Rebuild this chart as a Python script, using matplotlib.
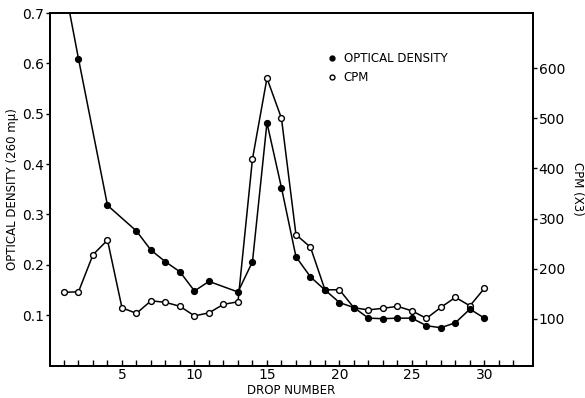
import matplotlib
matplotlib.use('Agg')
import matplotlib.pyplot as plt
from matplotlib.lines import Line2D

plt.rcParams['font.family'] = ['DejaVu Sans']

# optical density (260 mu), filled circles -- drops 3, 5, 12 have no reading
od_drops = [1, 2, 4, 6, 7, 8, 9, 10, 11, 13, 14, 15, 16, 17, 18, 19, 20,
            21, 22, 23, 24, 25, 26, 27, 28, 29, 30]
od_values = [0.76, 0.609, 0.318, 0.267, 0.229, 0.206, 0.186, 0.148, 0.167,
             0.146, 0.206, 0.482, 0.353, 0.216, 0.176, 0.150, 0.125, 0.115,
             0.094, 0.093, 0.094, 0.094, 0.079, 0.075, 0.085, 0.112, 0.094]

# CPM (x3), open circles
cpm_drops = list(range(1, 31))
cpm_values = [153, 154, 228, 257, 122, 111, 136, 133, 125, 106,
              112, 129, 134, 419, 580, 500, 268, 243, 158, 158,
              122, 118, 121, 125, 116, 101, 123, 143, 126, 161]

od_ticks = [0.1, 0.2, 0.3, 0.4, 0.5, 0.6, 0.7]
od_ticklabels = ['0.1', '0.2', '0.3', '0.4', '0.5', '0.6', '0.7']
cpm_ticks = [100, 200, 300, 400, 500, 600]
x_labeled = [5, 10, 15, 20, 25, 30]

fig = plt.figure(figsize=(5.85, 3.98), dpi=100, facecolor='white')
ax = fig.add_axes([49.5 / 585, 1 - 365.5 / 398, 483.5 / 585, 352.5 / 398])
ax2 = ax.twinx()
ax.set_zorder(ax2.get_zorder() + 1)
ax.patch.set_visible(False)

ax2.plot(cpm_drops, cpm_values, color='black', lw=1.1, marker='o', ms=4.2,
         mfc='white', mec='black', mew=1.0)
ax.plot(od_drops, od_values, color='black', lw=1.1, marker='o', ms=4.2,
        mfc='black', mec='black')

ax.set_xlim(0, 33.35)
ax.set_ylim(0, 0.7)
ax2.set_ylim(7, 710)

# x: small inward tick at every drop, labels every 5
ax.set_xticks(list(range(1, 33)))
ax.set_xticklabels([str(i) if i in x_labeled else '' for i in range(1, 33)],
                   fontsize=10)
ax.tick_params(axis='x', direction='in', length=4, width=1, pad=2)

ax.set_yticks(od_ticks)
ax.set_yticklabels(od_ticklabels, fontsize=10)
ax.tick_params(axis='y', direction='out', length=3, width=1, pad=1)

ax2.set_yticks(cpm_ticks)
ax2.set_yticklabels([str(v) for v in cpm_ticks], fontsize=10)
ax2.tick_params(axis='y', direction='out', length=3, width=1, pad=1)

for a in (ax, ax2):
    for s in a.spines.values():
        s.set_linewidth(1.4)

ax.set_xlabel('DROP NUMBER', fontsize=8.5, labelpad=1)
ax.set_ylabel('OPTICAL DENSITY (260 m\u03bc)', fontsize=8.5, labelpad=2)
ax2.set_ylabel('CPM (X3)', fontsize=8.5, rotation=270, labelpad=14)

handles = [
    Line2D([], [], ls='none', marker='o', ms=3.5, mfc='black', mec='black'),
    Line2D([], [], ls='none', marker='o', ms=3.5, mfc='white', mec='black'),
]
ax.legend(handles, ['OPTICAL DENSITY', 'CPM'], loc='upper left',
          bbox_to_anchor=(0.562, 0.905), frameon=False, fontsize=8.5,
          handlelength=0.8, handletextpad=0.6, borderpad=0, labelspacing=0.45)

fig.savefig('out.png', dpi=100, facecolor='white')
